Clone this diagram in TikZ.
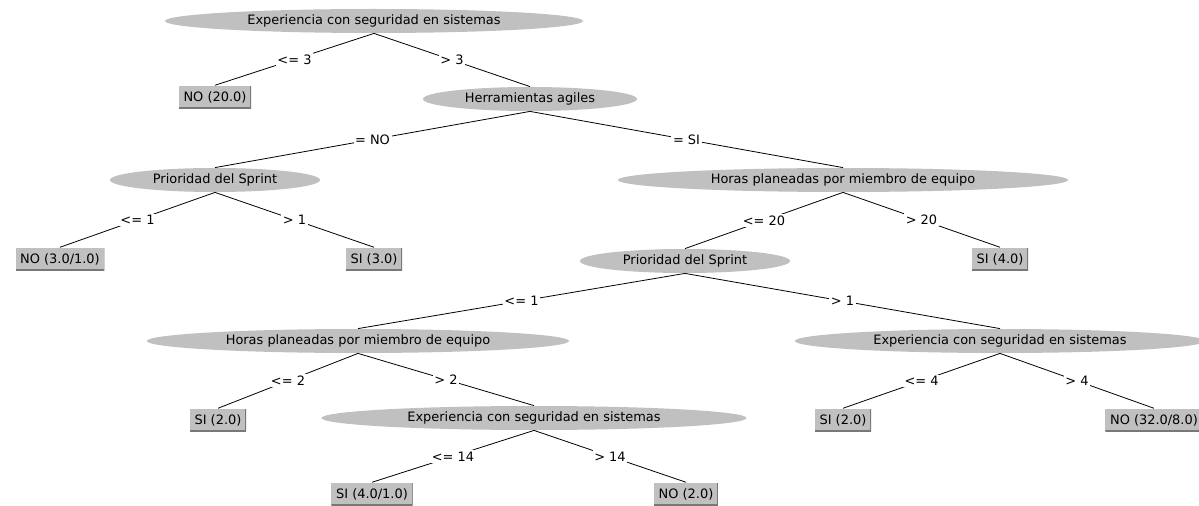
\documentclass[tikz,border=0pt]{standalone}
\usepackage{fontspec}
\setmainfont{DejaVu Sans}
\usetikzlibrary{shapes.geometric}
\definecolor{nodegray}{RGB}{192,192,192}
\definecolor{shadegray}{RGB}{120,120,120}
\newcommand{\treefont}{\fontsize{9.7}{11}\selectfont}
\tikzset{every picture/.style={line width=0.6pt}}
\tikzset{
  split/.style={ellipse, fill=nodegray, inner sep=0pt, minimum height=18pt, minimum width=#1, font=\treefont},
  leaf/.style={rectangle, fill=nodegray, inner xsep=3.5pt, inner ysep=0pt, minimum height=17pt, font=\treefont,
    path picture={\draw[shadegray, line width=1.4pt] (path picture bounding box.north east) -- (path picture bounding box.south east) -- (path picture bounding box.south west);}},
  cond/.style={fill=white, inner sep=1.2pt, font=\treefont}
}

\begin{document}
\begin{tikzpicture}[x=0.75pt,y=0.75pt,yscale=-1,xscale=1]
\path[use as bounding box, fill=white] (0,0) rectangle (1199,506);
\clip (0,0) rectangle (1199,506);

%Shape: Ellipse [root]
\node [split=313.5pt] (root) at (374,21) {Experiencia con seguridad en sistemas};
%Shape: Leaf
\node [leaf] (noA) at (215,97) {NO (20.0)};
%Shape: Ellipse
\node [split=160.5pt] (herr) at (530,99) {Herramientas agiles};
%Shape: Ellipse
\node [split=157.5pt] (prioA) at (215,180) {Prioridad del Sprint};
%Shape: Ellipse
\node [split=337.5pt] (horasA) at (843,180) {Horas planeadas por miembro de equipo};
%Shape: Leaf
\node [leaf] (noB) at (60,259) {NO (3.0/1.0)};
%Shape: Leaf
\node [leaf] (siA) at (374,259) {SI (3.0)};
%Shape: Ellipse
\node [split=157.5pt] (prioB) at (685,261) {Prioridad del Sprint};
%Shape: Leaf
\node [leaf] (siB) at (1000,259) {SI (4.0)};
%Shape: Ellipse
\node [split=316.5pt] (horasB) at (358,341) {Horas planeadas por miembro de equipo};
%Shape: Ellipse
\node [split=307.5pt] (expB) at (1000,341) {Experiencia con seguridad en sistemas};
%Shape: Leaf
\node [leaf] (siC) at (218,420) {SI (2.0)};
%Shape: Ellipse
\node [split=318.75pt] (expC) at (534,418) {Experiencia con seguridad en sistemas};
%Shape: Leaf
\node [leaf] (siD) at (843,420) {SI (2.0)};
%Shape: Leaf
\node [leaf, anchor=west] (noC) at (1105,420) {NO (32.0/8.0)};
%Shape: Leaf
\node [leaf] (siE) at (372,494) {SI (4.0/1.0)};
%Shape: Leaf
\node [leaf] (noD) at (686,494) {NO (2.0)};

% Branches
\draw (root.south) -- node[cond] {<= 3} (noA.north);
\draw (root.south) -- node[cond] {> 3} (herr.north);
\draw (herr.south) -- node[cond] {= NO} (prioA.north);
\draw (herr.south) -- node[cond] {= SI} (horasA.north);
\draw (prioA.south) -- node[cond] {<= 1} (noB.north);
\draw (prioA.south) -- node[cond] {> 1} (siA.north);
\draw (horasA.south) -- node[cond] {<= 20} (prioB.north);
\draw (horasA.south) -- node[cond] {> 20} (siB.north);
\draw (prioB.south) -- node[cond] {<= 1} (horasB.north);
\draw (prioB.south) -- node[cond] {> 1} (expB.north);
\draw (horasB.south) -- node[cond] {<= 2} (siC.north);
\draw (horasB.south) -- node[cond] {> 2} (expC.north);
\draw (expB.south) -- node[cond] {<= 4} (siD.north);
\draw (expB.south) -- node[cond] {> 4} (noC.north);
\draw (expC.south) -- node[cond] {<= 14} (siE.north);
\draw (expC.south) -- node[cond] {> 14} (noD.north);

\end{tikzpicture}
\end{document}
